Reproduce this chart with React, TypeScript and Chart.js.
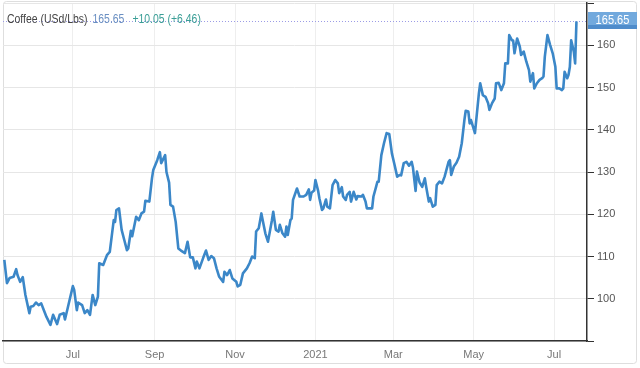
import React, { useEffect, useRef } from 'react';
import { Chart, registerables } from 'chart.js';

Chart.register(...registerables);

// ---- data ----
const seriesName = 'Coffee (USd/Lbs)';
const lastValue = 165.65;
const lastLabel = '165.65';
const changeLabel = '+10.05 (+6.46)';

// day offsets from 2020-07-01
const tickDays = [0, 62, 123, 184, 243, 304, 365];
const tickLabels = ['Jul', 'Sep', 'Nov', '2021', 'Mar', 'May', 'Jul'];
const yLabelledTicks = [100, 110, 120, 130, 140, 150, 160];

const dayOffsets = [
  -52, -50, -48, -45, -43, -42, -40, -38, -36, -33,
  -32, -30, -28, -26, -24, -22, -20, -17, -15, -12,
  -10, -7, -6, -4, 0, 1, 3, 4, 7, 9,
  11, 13, 15, 17, 19, 20, 23, 26, 28, 31,
  32, 33, 35, 37, 39, 41, 42, 44, 45, 48,
  50, 52, 54, 55, 58, 60, 61, 64, 66, 67,
  70, 71, 73, 74, 76, 78, 80, 82, 85, 87,
  89, 91, 93, 94, 96, 99, 101, 103, 105, 107,
  109, 111, 114, 115, 117, 119, 121, 124, 125, 127,
  129, 132, 134, 136, 138, 139, 141, 143, 144, 146,
  148, 151, 152, 154, 156, 157, 159, 161, 162, 163,
  165, 166, 167, 170, 172, 175, 177, 179, 180, 181,
  183, 184, 186, 187, 189, 190, 192, 193, 195, 197,
  199, 201, 202, 204, 205, 207, 208, 210, 211, 213,
  215, 216, 219, 220, 222, 223, 227, 228, 230, 231,
  232, 234, 236, 238, 240, 242, 244, 246, 248, 249,
  251, 253, 255, 257, 258, 260, 261, 263, 265, 267,
  268, 270, 271, 273, 275, 276, 278, 280, 282, 285,
  286, 287, 289, 291, 293, 295, 297, 298, 300, 301,
  302, 305, 308, 309, 311, 313, 315, 316, 318, 320,
  321, 323, 325, 327, 328, 330, 331, 333, 334, 335,
  337, 339, 340, 342, 344, 346, 347, 349, 350, 352,
  354, 356, 357, 358, 360, 362, 364, 366, 367, 369,
  371, 372, 373, 375, 376, 377, 378, 380, 381, 382,
];

const prices = [
  109.2, 103.7, 104.9, 105.2, 107.0, 105.6, 104.0, 105.1, 100.9, 96.6,
  98.1, 98.3, 99.1, 98.5, 98.9, 97.3, 95.7, 93.8, 96.2, 94.0,
  96.2, 96.6, 95.1, 97.7, 103.0, 102.1, 97.3, 99.1, 98.5, 96.6,
  97.3, 96.2, 100.9, 98.5, 100.5, 108.4, 108.0, 110.4, 111.1, 118.6,
  118.2, 121.0, 121.4, 116.3, 113.9, 111.5, 111.9, 116.1, 114.8, 119.4,
  118.6, 120.2, 120.6, 123.2, 123.0, 128.5, 130.5, 132.8, 134.7, 132.1,
  134.0, 130.0, 127.5, 122.2, 121.8, 118.2, 111.9, 111.4, 110.8, 113.5,
  109.8, 109.8, 107.2, 108.8, 107.2, 109.8, 111.4, 109.2, 110.1, 109.6,
  107.2, 105.2, 104.0, 106.4, 105.6, 106.8, 104.8, 104.0, 102.9, 103.3,
  106.0, 107.2, 108.4, 110.0, 109.6, 115.9, 116.7, 120.2, 118.6, 115.5,
  113.5, 118.6, 120.6, 116.3, 115.9, 117.5, 115.5, 114.7, 117.1, 115.1,
  118.6, 119.0, 123.4, 126.1, 124.2, 124.2, 124.6, 125.9, 123.4, 125.1,
  125.6, 128.1, 125.6, 123.8, 121.0, 121.4, 123.5, 121.8, 121.4, 126.9,
  128.1, 127.3, 125.0, 126.4, 124.2, 123.4, 124.6, 125.3, 123.0, 125.3,
  123.5, 124.3, 124.2, 124.6, 123.0, 121.4, 121.4, 124.2, 126.5, 127.7,
  127.7, 134.0, 136.8, 139.2, 139.0, 134.4, 131.7, 128.9, 129.3, 129.2,
  132.1, 132.4, 131.5, 132.4, 131.0, 125.5, 130.1, 127.5, 126.5, 128.5,
  126.5, 123.0, 123.8, 121.8, 122.2, 126.9, 127.7, 127.3, 128.9, 132.4,
  132.8, 129.3, 131.3, 132.2, 133.6, 136.8, 142.3, 144.5, 144.3, 141.5,
  142.3, 139.2, 148.6, 151.0, 148.2, 147.8, 146.3, 144.7, 146.3, 147.4,
  151.0, 151.1, 149.4, 151.0, 155.7, 155.7, 162.4, 161.2, 161.1, 158.1,
  161.6, 159.7, 157.7, 158.5, 156.1, 154.1, 151.4, 153.4, 149.8, 151.0,
  151.8, 152.2, 152.6, 157.3, 162.4, 160.1, 158.1, 154.9, 149.8, 149.8,
  149.4, 149.8, 153.7, 152.2, 153.0, 154.9, 161.2, 158.5, 155.7, 165.65,
];

const FONT = "'Liberation Sans', Arial, sans-serif";
const LINE_COLOR = '#3b87c8';

function narrowText(ctx: any, text: string, x: number, y: number, sx: number) {
  ctx.save();
  ctx.translate(x, y);
  ctx.scale(sx, 1);
  ctx.fillText(text, 0, 0);
  ctx.restore();
  return ctx.measureText(text).width * sx;
}

const framePlugin = {
  id: 'frame',
  beforeDraw(chart: any) {
    const { ctx, width, height } = chart;
    ctx.save();
    ctx.fillStyle = '#ffffff';
    ctx.fillRect(0, 0, width, height);
    ctx.strokeStyle = '#dedede';
    ctx.lineWidth = 1;
    ctx.beginPath();
    if (ctx.roundRect) ctx.roundRect(3.5, 1.5, 633, 362, 3);
    else ctx.rect(3.5, 1.5, 633, 362);
    ctx.stroke();
    ctx.restore();
  },
  beforeDatasetsDraw(chart: any) {
    const { ctx, chartArea, scales } = chart;
    const y = Math.round(scales.y.getPixelForValue(lastValue)) + 0.5;
    ctx.save();
    ctx.strokeStyle = '#9c9ce6';
    ctx.lineWidth = 1;
    ctx.setLineDash([1, 2]);
    ctx.beginPath();
    ctx.moveTo(chartArea.left, y);
    ctx.lineTo(chartArea.right, y);
    ctx.stroke();
    ctx.restore();
  },
  afterDraw(chart: any) {
    const { ctx, chartArea, scales } = chart;
    const yv = scales.y.getPixelForValue(lastValue);
    ctx.save();
    // legend text
    ctx.font = `12px ${FONT}`;
    ctx.textBaseline = 'alphabetic';
    ctx.textAlign = 'left';
    const sx = 0.87;
    let x = 7;
    const by = 23;
    ctx.fillStyle = '#444444';
    x += narrowText(ctx, seriesName, x, by, sx) + 5;
    ctx.fillStyle = '#6a8fc2';
    x += narrowText(ctx, lastLabel, x, by, sx) + 8;
    ctx.fillStyle = '#3a9e96';
    narrowText(ctx, changeLabel, x, by, sx);

    // value box on the right
    const bx = chartArea.right + 1;
    const bw = 49;
    const bh = 17;
    const top = Math.round(yv - 9);
    ctx.fillStyle = '#72a9dd';
    ctx.fillRect(bx, top, bw, bh);
    ctx.fillStyle = '#4f8ccb';
    ctx.fillRect(bx, top + bh - 4, bw, 4);
    ctx.fillStyle = '#ffffff';
    ctx.font = `13px ${FONT}`;
    ctx.textAlign = 'left';
    ctx.textBaseline = 'middle';
    const w = ctx.measureText(lastLabel).width * 0.85;
    narrowText(ctx, lastLabel, bx + (bw - w) / 2, top + bh / 2, 0.85);
    ctx.restore();
  },
};

export default function App() {
  const ref = useRef<HTMLCanvasElement | null>(null);

  useEffect(() => {
    document.body.style.margin = '0';
    const canvas = ref.current;
    if (!canvas) return;
    const chart = new Chart(canvas, {
      type: 'line',
      data: {
        datasets: [
          {
            label: seriesName,
            data: dayOffsets.map((d, i) => ({ x: d, y: prices[i] })),
            borderColor: LINE_COLOR,
            borderWidth: 2.6,
            pointRadius: 0,
            tension: 0,
            fill: false,
            borderJoinStyle: 'round',
          },
        ],
      },
      options: {
        animation: false,
        responsive: false,
        devicePixelRatio: 1,
        layout: { padding: { left: 3, top: 3, right: 0, bottom: 0 } },
        plugins: { legend: { display: false }, tooltip: { enabled: false } },
        scales: {
          x: {
            type: 'linear',
            position: 'bottom',
            min: -53,
            max: 390,
            afterBuildTicks: (s: any) => {
              s.ticks = tickDays.map((v) => ({ value: v }));
            },
            afterFit: (s: any) => {
              s.height = 27;
              s.paddingLeft = 0;
              s.paddingRight = 0;
            },
            ticks: {
              autoSkip: false,
              maxRotation: 0,
              padding: 7,
              color: '#777777',
              font: { family: FONT, size: 11 },
              callback: (v: any) => {
                const i = tickDays.indexOf(Number(v));
                return i >= 0 ? tickLabels[i] : '';
              },
            },
            grid: { color: '#eeeeee', drawTicks: false, lineWidth: 1 },
            border: { color: '#333333', width: 1.5 },
          },
          y: {
            type: 'linear',
            position: 'right',
            min: 90,
            max: 170,
            afterFit: (s: any) => {
              s.width = 53;
              s.paddingTop = 0;
              s.paddingBottom = 0;
            },
            ticks: {
              stepSize: 10,
              padding: 3,
              color: '#555555',
              font: { family: FONT, size: 11 },
              callback: (v: any) => (yLabelledTicks.includes(Number(v)) ? String(v) : ''),
            },
            grid: { color: '#e6e6e6', tickColor: '#333333', tickLength: 7, lineWidth: 1 },
            border: { color: '#333333', width: 1.5 },
          },
        },
      },
      plugins: [framePlugin],
    } as any);
    return () => chart.destroy();
  }, []);

  return (
    <div style={{ position: 'fixed', left: 0, top: 0, width: 640, height: 368 }}>
      <canvas ref={ref} width={640} height={368} style={{ width: 640, height: 368, display: 'block' }} />
    </div>
  );
}
